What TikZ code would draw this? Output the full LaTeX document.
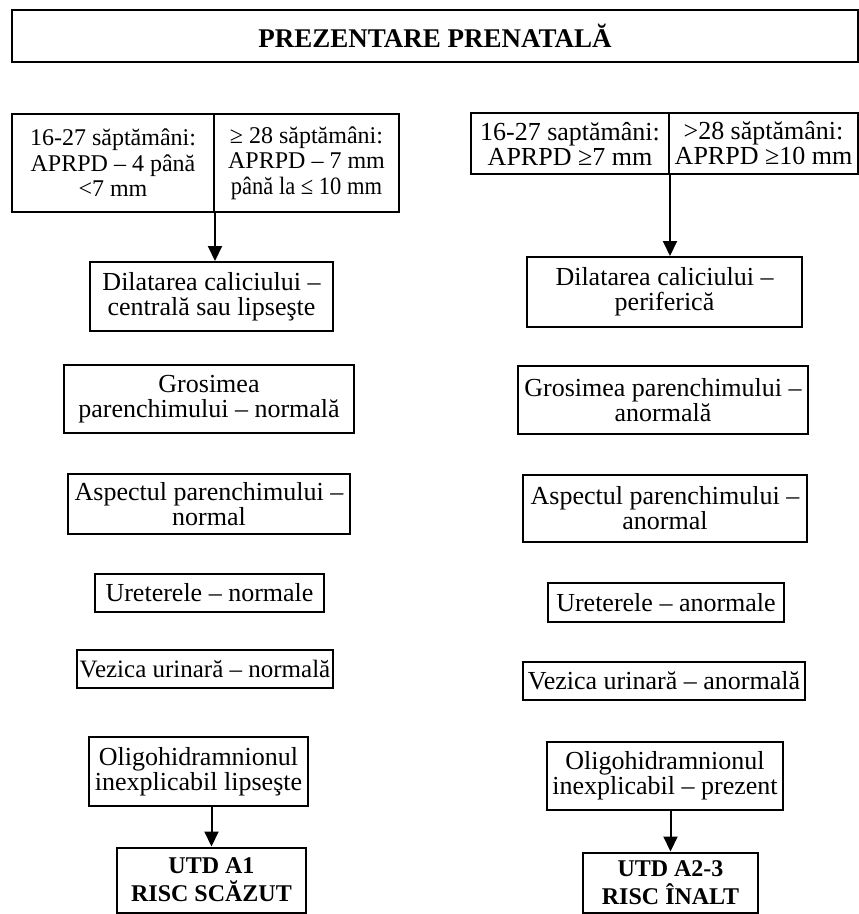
\documentclass[tikz,border=0pt]{standalone}
\usepackage{fontspec}
\setmainfont{Liberation Serif}
\newfontfamily\ingust[FakeStretch=0.9]{Liberation Serif}
\usetikzlibrary{arrows.meta}

\begin{document}
\begin{tikzpicture}[x=1pt,y=-1pt,
    box/.style={draw,line width=2pt,inner sep=0pt,align=center,font=\fontsize{26}{25}\selectfont},
    arr/.style={line width=2pt,-{Triangle[length=15pt,width=14pt]}}]
  \useasboundingbox (0,0) rectangle (859,914);
  % titlu
  \node[box,minimum width=846pt,minimum height=52pt,font=\fontsize{27}{27}\selectfont\bfseries] (titlu) at (435,36) {PREZENTARE PRENATALĂ};
  % ramura stanga
  \node[box,minimum width=202pt,minimum height=98pt,font=\fontsize{24}{25.5}\selectfont] (l1) at (113,163) {16-27 săptămâni:\\APRPD – 4 până\\<7 mm};
  \node[box,minimum width=185pt,minimum height=98pt,font=\fontsize{24}{25.5}\selectfont] (l2) at (306.5,163) {≥ 28 săptămâni:\\APRPD – 7 mm\\{\ingust\fontsize{25}{25.5}\selectfont până la ≤ 10 mm}};
  \node[box,minimum width=243pt,minimum height=69pt] (dl) at (211.5,296.5) {Dilatarea caliciului –\\centrală sau lipseşte};
  \node[box,minimum width=290pt,minimum height=68pt] (gl) at (209,399) {Grosimea\\parenchimului – normală};
  \node[box,minimum width=282pt,minimum height=60pt] (al) at (209,504) {Aspectul parenchimului –\\normal};
  \node[box,minimum width=229pt,minimum height=38pt] (ul) at (209.5,593) {Ureterele – normale};
  \node[box,minimum width=256pt,minimum height=38pt,font=\fontsize{25}{25}\selectfont] (vl) at (205,669) {Vezica urinară – normală};
  \node[box,minimum width=219pt,minimum height=69pt] (ol) at (198.5,771.5) {Oligohidramnionul\\inexplicabil lipseşte};
  \node[box,minimum width=189pt,minimum height=65pt,font=\fontsize{24}{28}\selectfont\bfseries] (rl) at (211.5,880) {UTD A1\\RISC SCĂZUT};
  % ramura dreapta
  \node[box,minimum width=198pt,minimum height=61pt] (r1) at (570,143.5) {16-27 saptămâni:\\APRPD ≥7 mm};
  \node[box,minimum width=189pt,minimum height=61pt] (r2) at (763.5,143.5) {>28 săptămâni:\\APRPD ≥10 mm};
  \node[box,minimum width=275pt,minimum height=70pt] (dr) at (664.5,292) {Dilatarea caliciului –\\periferică};
  \node[box,minimum width=290pt,minimum height=68pt] (gr) at (663,400) {Grosimea parenchimului –\\anormală};
  \node[box,minimum width=284pt,minimum height=67pt] (ar) at (665,508.5) {Aspectul parenchimului –\\anormal};
  \node[box,minimum width=236pt,minimum height=39pt] (ur) at (666,602.5) {Ureterele – anormale};
  \node[box,minimum width=282pt,minimum height=38pt] (vr) at (664,681) {Vezica urinară – anormală};
  \node[box,minimum width=236pt,minimum height=68pt] (olr) at (665,776) {Oligohidramnionul\\inexplicabil – prezent};
  \node[box,minimum width=175pt,minimum height=60pt,font=\fontsize{24}{28}\selectfont\bfseries] (rr) at (670.5,882.5) {UTD A2-3\\RISC ÎNALT};
  % sageti
  \draw[arr] (l1.south east) -- (l1.south east |- dl.north);
  \draw[arr] (r1.south east) -- (r1.south east |- dr.north);
  \draw[arr] (rl.north |- ol.south) -- (rl.north);
  \draw[arr] (rr.north |- olr.south) -- (rr.north);
\end{tikzpicture}
\end{document}
